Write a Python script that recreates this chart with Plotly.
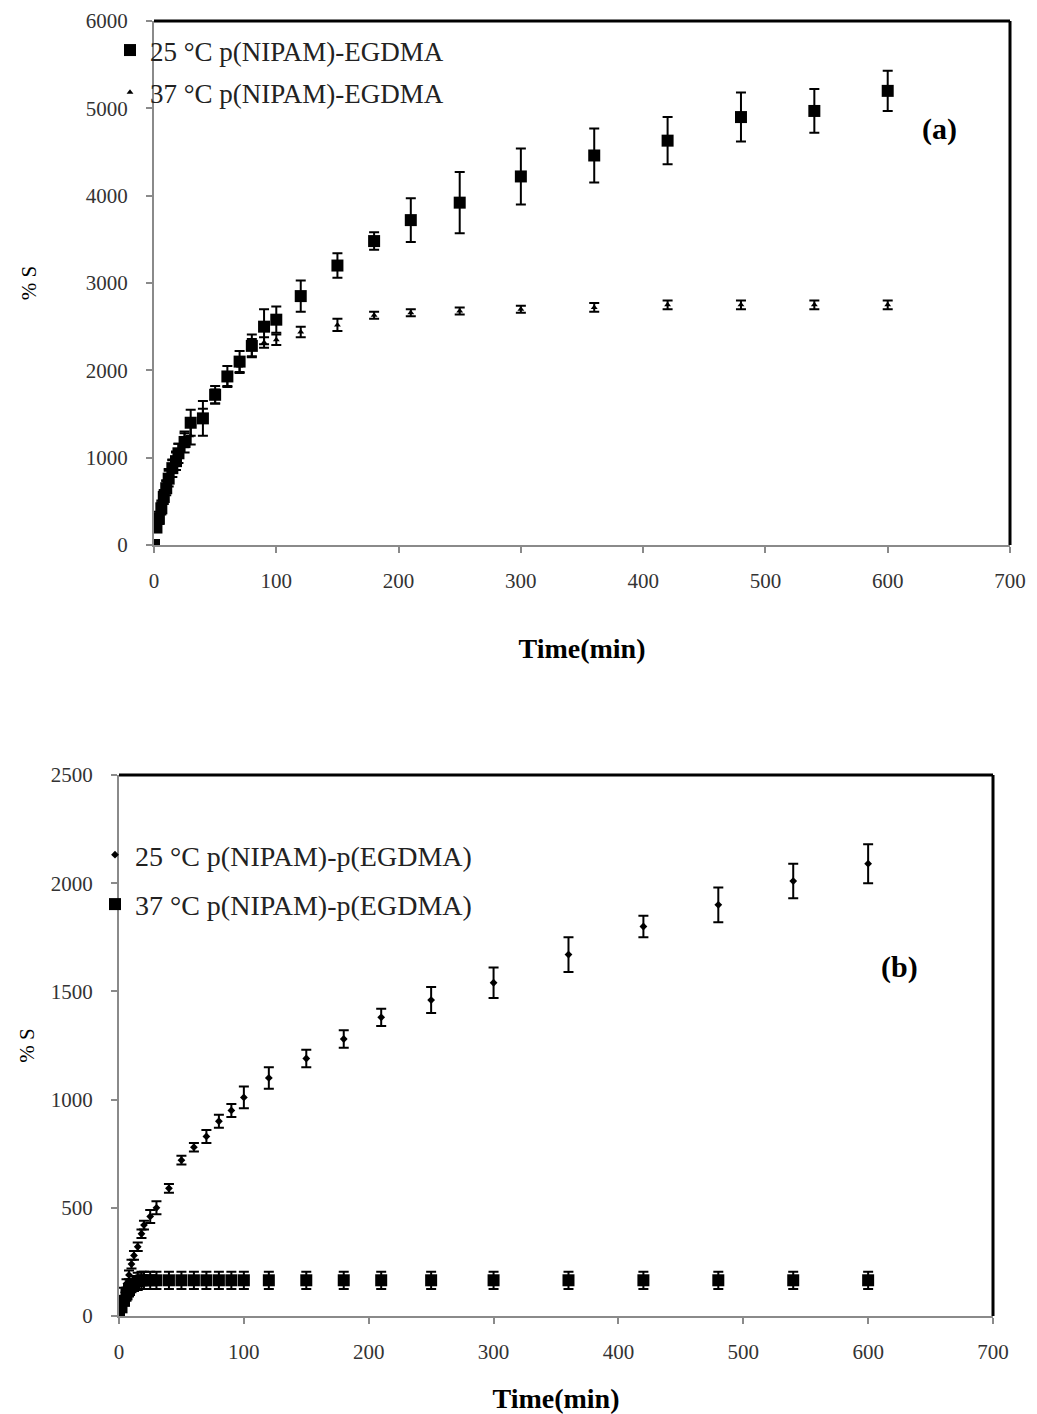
import plotly.graph_objects as go

# ---------- Panel (a) data ----------
time_a = [0, 2, 4, 6, 8, 10, 12, 15, 18, 20, 25, 30, 40, 50, 60, 70, 80, 90, 100,
          120, 150, 180, 210, 250, 300, 360, 420, 480, 540, 600]
s25_a = [0, 200, 300, 420, 550, 650, 760, 880, 960, 1050, 1180, 1400, 1450, 1720, 1930,
         2100, 2280, 2500, 2580, 2850, 3200, 3480, 3720, 3920, 4220, 4460, 4630, 4900, 4970, 5200]
e25_a = [0, 50, 60, 70, 80, 80, 90, 100, 100, 110, 120, 150, 200, 100, 120,
         120, 130, 200, 150, 180, 140, 100, 250, 350, 320, 310, 270, 280, 250, 230]
s37_a = [0, 230, 330, 450, 560, 680, 800, 900, 1000, 1080, 1200, 1250, 1480, 1700, 1900,
         2050, 2260, 2320, 2350, 2440, 2520, 2630, 2660, 2680, 2700, 2720, 2750, 2750, 2750, 2750]
e37_a = [0, 40, 50, 60, 60, 60, 70, 70, 70, 80, 80, 100, 80, 80, 80,
         80, 100, 60, 60, 60, 70, 40, 40, 40, 40, 50, 50, 50, 50, 50]

# ---------- Panel (b) data ----------
time_b = [0, 2, 4, 6, 8, 10, 12, 15, 18, 20, 25, 30, 40, 50, 60, 70, 80, 90, 100,
          120, 150, 180, 210, 250, 300, 360, 420, 480, 540, 600]
s25_b = [0, 60, 110, 150, 190, 240, 280, 320, 380, 420, 460, 500, 590, 720, 780,
         830, 900, 950, 1010, 1100, 1190, 1280, 1380, 1460, 1540, 1670, 1800, 1900, 2010, 2090]
e25_b = [0, 20, 20, 20, 20, 20, 20, 20, 20, 20, 30, 30, 20, 20, 20,
         30, 30, 30, 50, 50, 40, 40, 40, 60, 70, 80, 50, 80, 80, 90]
s37_b = [0, 40, 70, 100, 120, 140, 150, 160, 165, 165, 165, 165, 165, 165, 165,
         165, 165, 165, 165, 165, 165, 165, 165, 165, 165, 165, 165, 165, 165, 165]
e37_b = [0, 20, 20, 30, 30, 30, 35, 40, 40, 40, 40, 40, 40, 40, 40,
         40, 40, 40, 40, 40, 40, 40, 40, 40, 40, 40, 40, 40, 40, 40]

x_ticks = [0, 100, 200, 300, 400, 500, 600, 700]
y_ticks_a = [0, 1000, 2000, 3000, 4000, 5000, 6000]
y_ticks_b = [0, 500, 1000, 1500, 2000, 2500]

SERIF = "Liberation Serif, Times New Roman, serif"
OFF = 8                      # page body margin
FW, FH = 1037 - OFF, 1414 - OFF

def xp(px):
    return (px - OFF) / FW

def yp(py):
    return 1 - (py - OFF) / FH

fig = go.Figure()

def err(arr):
    return dict(type="data", array=arr, visible=True, color="black", thickness=2, width=5)

fig.add_trace(go.Scatter(x=time_a, y=s25_a, mode="markers", name="25 °C p(NIPAM)-EGDMA",
                         marker=dict(symbol="square", size=12, color="black"),
                         error_y=err(e25_a), xaxis="x", yaxis="y",
                         legend="legend", legendgroup="a1"))
fig.add_trace(go.Scatter(x=time_a, y=s37_a, mode="markers", name="37 °C p(NIPAM)-EGDMA",
                         marker=dict(symbol="triangle-up", size=6, color="black"),
                         error_y=err(e37_a), xaxis="x", yaxis="y",
                         legend="legend", legendgroup="a2"))
fig.add_trace(go.Scatter(x=time_b, y=s25_b, mode="markers", name="25 °C p(NIPAM)-p(EGDMA)",
                         marker=dict(symbol="diamond", size=6, color="black"),
                         error_y=err(e25_b), xaxis="x2", yaxis="y2",
                         legend="legend2", legendgroup="b1"))
fig.add_trace(go.Scatter(x=time_b, y=s37_b, mode="markers", name="37 °C p(NIPAM)-p(EGDMA)",
                         marker=dict(symbol="square", size=12, color="black"),
                         error_y=err(e37_b), xaxis="x2", yaxis="y2",
                         legend="legend2", legendgroup="b2"))

axis_common = dict(showline=True, linecolor="#8a8a8a", linewidth=2, ticks="outside",
                   tickcolor="#8a8a8a", ticklen=6, tickwidth=2, showgrid=False, zeroline=False,
                   automargin=False,
                   tickfont=dict(family=SERIF, size=21, color="#333333"))

fig.update_layout(
    width=FW, height=FH, margin=dict(l=0, r=0, t=0, b=0, autoexpand=False),
    paper_bgcolor="white", plot_bgcolor="white",
    font=dict(family=SERIF, color="black"),
    xaxis=dict(domain=[xp(154), xp(1010)], range=[0, 700], tickvals=x_ticks, anchor="y",
               ticklabelstandoff=10,
               title=dict(text="<b>Time(min)</b>", font=dict(family=SERIF, size=28), standoff=46),
               **axis_common),
    yaxis=dict(domain=[yp(545), yp(21)], range=[0, 6000], tickvals=y_ticks_a, anchor="x",
               ticklabelstandoff=14,
               title=dict(text="% S", font=dict(family=SERIF, size=21), standoff=43),
               **axis_common),
    xaxis2=dict(domain=[xp(119), xp(993)], range=[0, 700], tickvals=x_ticks, anchor="y2",
                ticklabelstandoff=10,
                title=dict(text="<b>Time(min)</b>", font=dict(family=SERIF, size=28), standoff=25),
                **axis_common),
    yaxis2=dict(domain=[yp(1316), yp(775)], range=[0, 2500], tickvals=y_ticks_b, anchor="x2",
                ticklabelstandoff=14,
                title=dict(text="% S", font=dict(family=SERIF, size=21), standoff=10),
                **axis_common),
    legend=dict(x=xp(110), y=yp(26), xanchor="left", yanchor="top",
                bgcolor="rgba(0,0,0,0)", font=dict(family=SERIF, size=27, color="#222"),
                tracegroupgap=4, itemwidth=30),
    legend2=dict(x=xp(95), y=yp(830), xanchor="left", yanchor="top",
                 bgcolor="rgba(0,0,0,0)", font=dict(family=SERIF, size=28, color="#222"),
                 tracegroupgap=10, itemwidth=30),
    showlegend=True,
)

# black top/right frame lines
for xr, yr in (("x domain", "y domain"), ("x2 domain", "y2 domain")):
    fig.add_shape(type="line", xref=xr, yref=yr, x0=0, x1=1, y0=1, y1=1,
                  line=dict(color="black", width=3))
    fig.add_shape(type="line", xref=xr, yref=yr, x0=1, x1=1, y0=0, y1=1,
                  line=dict(color="black", width=3))

fig.add_annotation(text="<b>(a)</b>", xref="x", yref="y", x=642, y=4760,
                   showarrow=False, font=dict(family=SERIF, size=30, color="black"))
fig.add_annotation(text="<b>(b)</b>", xref="x2", yref="y2", x=625, y=1615,
                   showarrow=False, font=dict(family=SERIF, size=30, color="black"))

fig.write_html("out.html")
